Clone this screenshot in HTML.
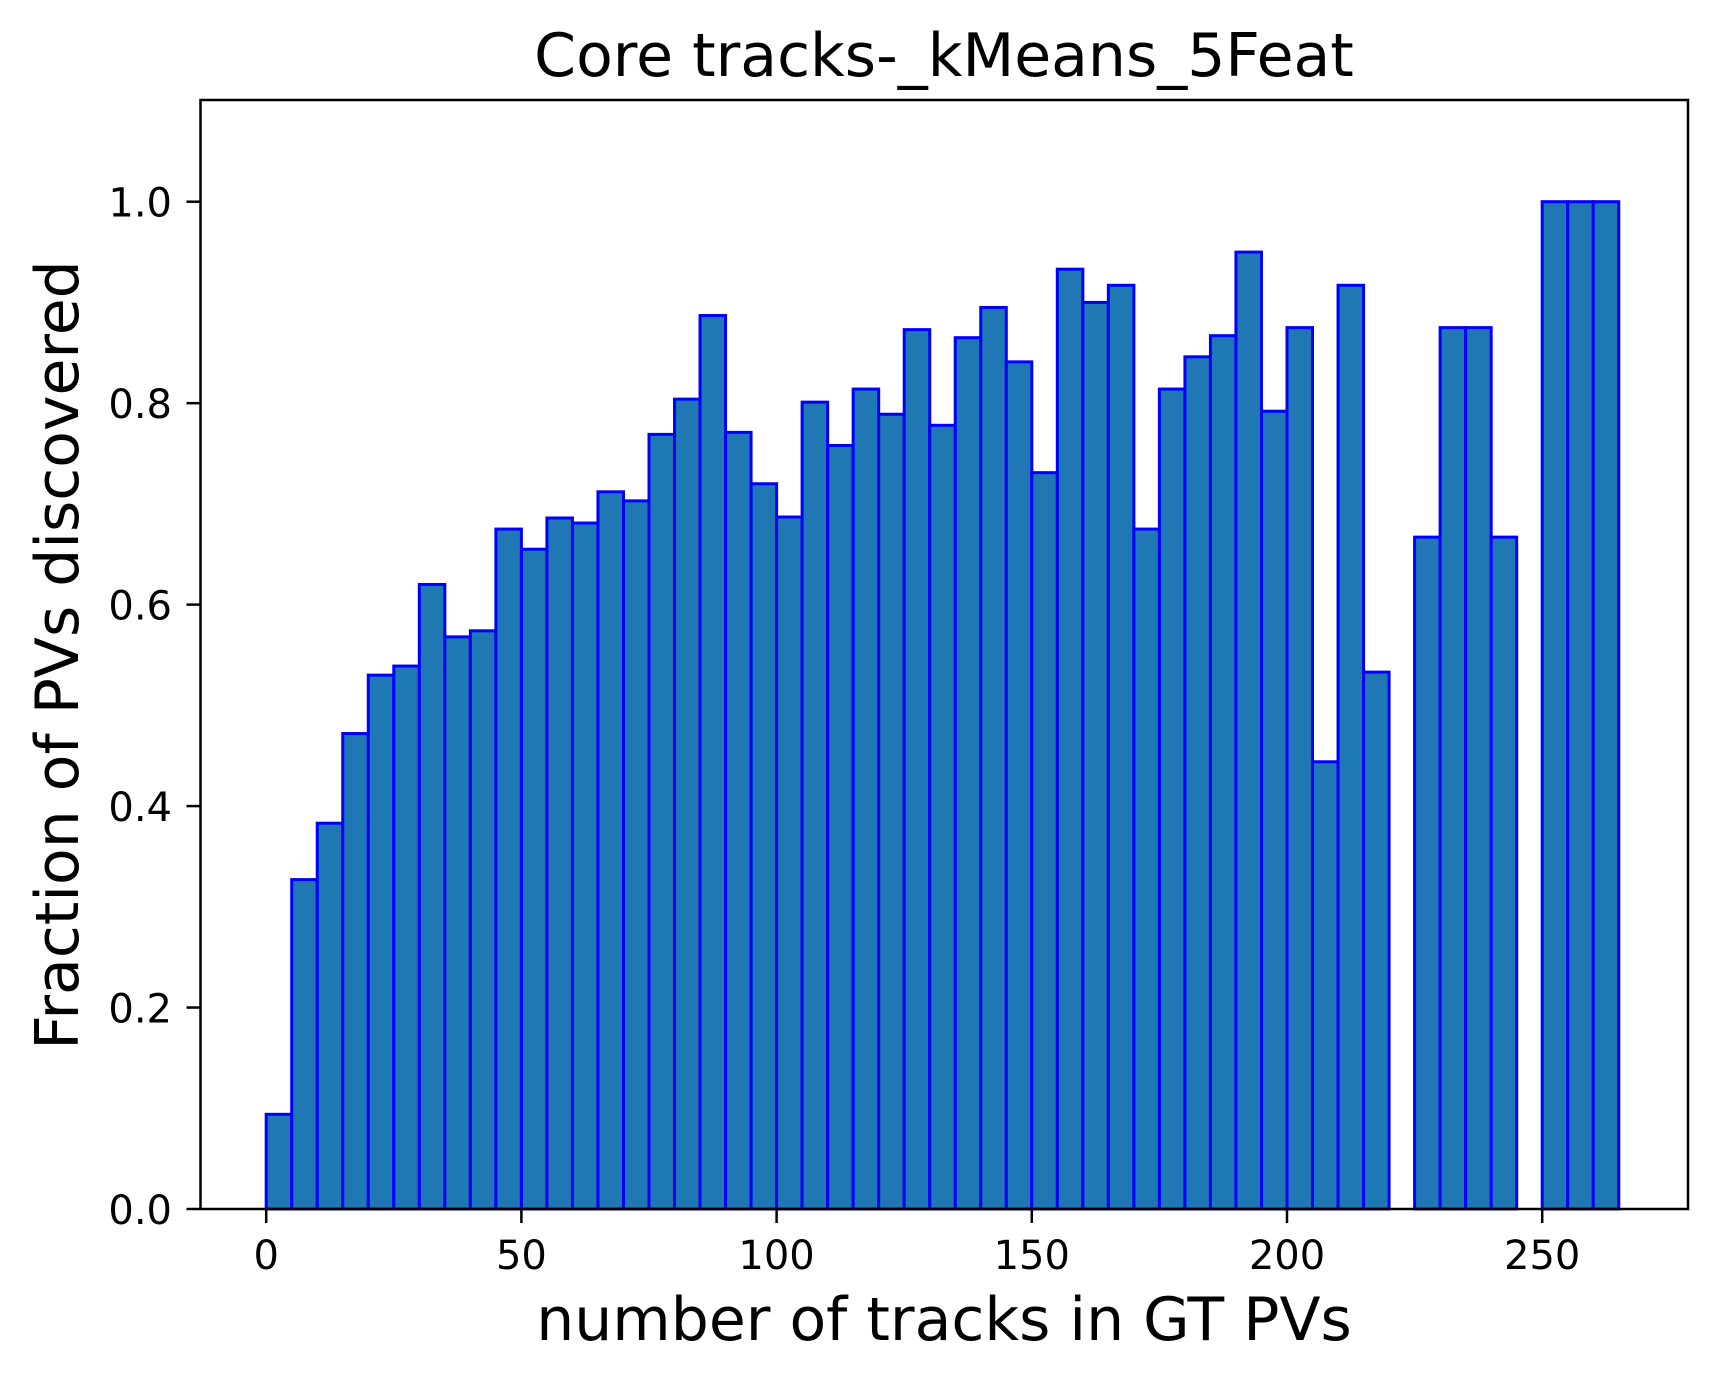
<!DOCTYPE html>
<html><head><meta charset="utf-8"><style>
html,body{margin:0;padding:0;background:#fff;}
svg{display:block;font-family:"DejaVu Sans","Liberation Sans",sans-serif;}
</style></head><body>
<svg id="chart" width="1719" height="1384">
<text x="944" y="76" font-size="60" text-anchor="middle">Core tracks-_kMeans_5Feat</text>
<text x="944" y="1340" font-size="60" text-anchor="middle">number of tracks in GT PVs</text>
<text transform="translate(78,655) rotate(-90)" font-size="60" text-anchor="middle">Fraction of PVs discovered</text>
<g id="bars"></g>
<g id="xticks"></g>
<g id="yticks"></g>
<rect x="200.5" y="100" width="1487.5" height="1109" fill="none" stroke="#000" stroke-width="2.5"/>
</svg>
<script>
const binStart = 0;
const binWidth = 5;
const fractions = [0.094,0.327,0.383,0.472,0.530,0.539,0.620,0.568,0.574,0.675,0.655,0.686,0.681,0.712,0.703,0.769,0.804,0.887,0.771,0.720,0.687,0.801,0.758,0.814,0.789,0.873,0.778,0.865,0.895,0.841,0.731,0.933,0.900,0.917,0.675,0.814,0.846,0.867,0.950,0.792,0.875,0.444,0.917,0.533,0,0.667,0.875,0.875,0.667,0,1.0,1.0,1.0];
const xTickValues = [0,50,100,150,200,250];
const yTickValues = [0.0,0.2,0.4,0.6,0.8,1.0];

const NS = "http://www.w3.org/2000/svg";
function xs(v){ return 266.2 + v * 5.104; }
function ys(v){ return 1209 - v * 1007.3; }

const bars = document.getElementById('bars');
fractions.forEach((f, i) => {
  if (f <= 0) return;
  const x0 = xs(binStart + i * binWidth), x1 = xs(binStart + (i + 1) * binWidth);
  const r = document.createElementNS(NS, 'rect');
  r.setAttribute('x', x0); r.setAttribute('width', x1 - x0);
  r.setAttribute('y', ys(f)); r.setAttribute('height', ys(0) - ys(f));
  r.setAttribute('fill', '#1f77b4'); r.setAttribute('stroke', '#0000ff'); r.setAttribute('stroke-width', '3');
  
  
  bars.appendChild(r);
});

const xt = document.getElementById('xticks');
xTickValues.forEach(v => {
  const l = document.createElementNS(NS, 'line');
  l.setAttribute('x1', xs(v)); l.setAttribute('x2', xs(v));
  l.setAttribute('y1', 1209); l.setAttribute('y2', 1223);
  l.setAttribute('stroke', '#000'); l.setAttribute('stroke-width', '2.5');
  
  
  xt.appendChild(l);
  const t = document.createElementNS(NS, 'text');
  t.setAttribute('x', xs(v)); t.setAttribute('y', 1269);
  t.setAttribute('font-size', '40'); t.setAttribute('text-anchor', 'middle');
  t.textContent = String(v);
  
  
  xt.appendChild(t);
});

const yt = document.getElementById('yticks');
yTickValues.forEach(v => {
  const l = document.createElementNS(NS, 'line');
  l.setAttribute('x1', 186.5); l.setAttribute('x2', 200.5);
  l.setAttribute('y1', ys(v)); l.setAttribute('y2', ys(v));
  l.setAttribute('stroke', '#000'); l.setAttribute('stroke-width', '2.5');
  
  
  yt.appendChild(l);
  const t = document.createElementNS(NS, 'text');
  t.setAttribute('x', 172); t.setAttribute('y', ys(v) + 15);
  t.setAttribute('font-size', '40'); t.setAttribute('text-anchor', 'end');
  t.textContent = v.toFixed(1);
  
  
  yt.appendChild(t);
});
</script>
</body></html>
